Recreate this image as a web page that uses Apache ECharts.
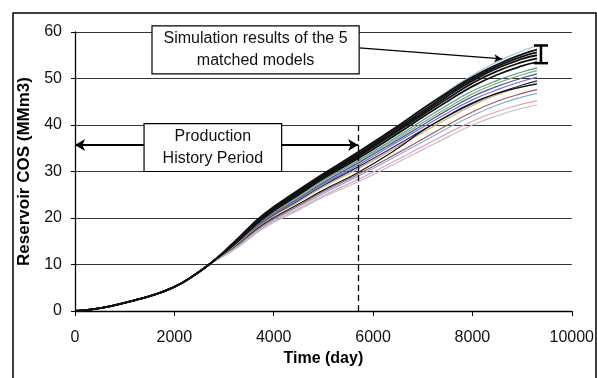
<!DOCTYPE html>
<html>
<head>
<meta charset="utf-8">
<script src="https://cdn.jsdelivr.net/npm/echarts@6/dist/echarts.min.js"></script>
<style>
  html, body { margin: 0; padding: 0; background: #fff; }
  #chart { width: 597px; height: 378px; }
</style>
</head>
<body>
<div id="chart"></div>
<script>
const fontFamily = '"Liberation Sans", Arial, sans-serif'

// time axis (day)
const xHistory = [0, 300, 700, 1200, 1600, 2000, 2300, 2700]
const xForecast = [3200, 3800, 4500, 5000, 5700, 6500, 7000, 7500, 8000, 8500, 9000, 9300]
// common history part of every run (MMm3)
const yHistory = [0, 0.3, 1, 2.3, 3.5, 5.2, 7, 10]

// the 5 matched models (black)
const matched = [
  [14.8, 20.8, 26.0, 29.5, 34.2, 39.8, 43.5, 47.0, 50.3, 53.0, 55.2, 56.2],
  [14.6, 20.6, 25.8, 29.2, 33.8, 39.4, 43.0, 46.6, 49.9, 52.6, 54.7, 55.6],
  [14.5, 20.4, 25.5, 29.0, 33.5, 39.0, 42.6, 46.2, 49.5, 52.2, 54.2, 55.0],
  [14.4, 20.2, 25.3, 28.8, 33.2, 38.7, 42.2, 45.7, 49.0, 51.6, 53.5, 54.3],
  [14.3, 20.0, 25.0, 28.5, 32.8, 38.2, 41.7, 45.1, 48.3, 50.8, 52.7, 53.5],
]

// other simulation runs
const others = [
  [14.6, 20.6, 25.8, 29.3, 34.0, 39.8, 43.6, 47.3, 50.7, 53.6, 55.9, 57.0],
  [14.2, 19.8, 24.7, 28.1, 32.3, 37.6, 41.0, 44.3, 47.3, 49.6, 51.4, 52.3],
  [14.1, 19.6, 24.4, 27.8, 32.0, 37.2, 40.5, 43.7, 46.7, 49.0, 50.8, 51.7],
  [14.0, 19.5, 24.2, 27.6, 31.8, 36.8, 40.0, 43.2, 46.1, 48.3, 50.1, 51.0],
  [13.9, 19.3, 24.0, 27.3, 31.4, 36.4, 39.5, 42.6, 45.4, 47.6, 49.4, 50.3],
  [13.8, 19.1, 23.7, 27.0, 31.0, 35.8, 38.9, 41.9, 44.6, 46.8, 48.6, 49.5],
  [13.8, 19.0, 23.5, 26.7, 30.6, 35.4, 38.4, 41.4, 44.2, 46.5, 48.2, 49.0],
  [13.6, 18.7, 23.0, 26.0, 29.8, 35.0, 38.8, 42.0, 44.8, 46.8, 48.2, 48.8],
  [13.5, 18.5, 22.7, 25.7, 29.4, 34.0, 37.0, 40.0, 42.8, 45.1, 46.8, 47.6],
  [13.4, 18.3, 22.4, 25.3, 29.0, 33.5, 36.4, 39.3, 42.0, 44.3, 46.0, 46.8],
  [13.2, 18.0, 22.0, 24.8, 28.3, 32.6, 35.4, 38.2, 40.8, 42.9, 44.5, 45.2],
  [13.1, 17.8, 21.7, 24.5, 27.8, 32.0, 34.7, 37.4, 40.0, 42.0, 43.6, 44.3],
]
const otherColors = ['#9cc6e0', '#4a9a9a', '#9aa860', '#3b5fb0', '#8a6ab8', '#1e2a66',
  '#c8b070', '#111111', '#a05a5a', '#7fb0e0', '#e0a0c0', '#c0c0c0']

// range of the matched models at the end (error bar)
const errorBar = [[9380, 53.3, 57.1]]

const xTicks = [0, 10000, 2000]
const yTicks = [0, 60, 10]

const historyEnd = 5700

const allX = xHistory.concat(xForecast)
const toPoints = tail => allX.map((x, i) => [x, yHistory.concat(tail)[i]])

const series = []
others.forEach((tail, i) => {
  series.push({
    type: 'line', name: 'run ' + (i + 1), data: toPoints(tail), smooth: true, symbol: 'none',
    lineStyle: { color: otherColors[i], width: 1.2 }, z: 2,
  })
})
matched.forEach((tail, i) => {
  series.push({
    type: 'line', name: 'matched ' + (i + 1), data: toPoints(tail), smooth: true, symbol: 'none',
    lineStyle: { color: '#111', width: 1.8 }, z: 3,
  })
})
series.push({
  type: 'custom', name: 'range', data: errorBar, z: 4,
  renderItem: (params, api) => {
    const top = api.coord([api.value(0), api.value(2)])
    const bot = api.coord([api.value(0), api.value(1)])
    const s = { stroke: '#000', lineWidth: 2.5 }
    return {
      type: 'group',
      children: [
        { type: 'line', shape: { x1: top[0], y1: top[1], x2: bot[0], y2: bot[1] }, style: s },
        { type: 'line', shape: { x1: top[0] - 7, y1: top[1], x2: top[0] + 7, y2: top[1] }, style: s },
        { type: 'line', shape: { x1: bot[0] - 7, y1: bot[1], x2: bot[0] + 7, y2: bot[1] }, style: s },
      ],
    }
  },
})
// annotation lines
series.push({
  type: 'line', data: [], silent: true,
  markLine: {
    silent: true, animation: false, label: { show: false },
    data: [
      [{ coord: [historyEnd, 0], symbol: 'none' }, { coord: [historyEnd, 40], symbol: 'none',
        lineStyle: { type: [6, 4], color: '#000', width: 1.3 } }],
      [{ coord: [0, 35.7], symbol: 'arrow', symbolSize: [9, 10] }, { coord: [historyEnd, 35.7], symbol: 'arrow', symbolSize: [9, 10],
        lineStyle: { type: 'solid', color: '#000', width: 2 } }],
      [{ coord: [5720, 56.6], symbol: 'none' }, { coord: [8600, 54.2], symbol: 'arrow', symbolSize: [6, 8],
        lineStyle: { type: 'solid', color: '#000', width: 1.2 } }],
    ],
  },
})

const chart = echarts.init(document.getElementById('chart'))
chart.setOption({
  animation: false,
  textStyle: { fontFamily },
  grid: { left: 75, right: 24, top: 32, bottom: 67 },
  xAxis: {
    type: 'value', min: xTicks[0], max: xTicks[1], interval: xTicks[2],
    name: 'Time (day)', nameLocation: 'middle', nameGap: 34,
    nameTextStyle: { fontSize: 16, fontWeight: 'bold', color: '#000' },
    axisLine: { lineStyle: { color: '#000', width: 1.3 } },
    axisTick: { show: true, length: 5, lineStyle: { color: '#000' } },
    axisLabel: { fontSize: 16, color: '#111', margin: 19, formatter: v => String(v) },
    splitLine: { show: false },
  },
  yAxis: {
    type: 'value', min: yTicks[0], max: yTicks[1], interval: yTicks[2],
    name: 'Reservoir COS (MMm3)', nameLocation: 'middle', nameGap: 41,
    nameTextStyle: { fontSize: 17, fontWeight: 'bold', color: '#000' },
    axisLine: { show: true, lineStyle: { color: '#000', width: 1.3 } },
    axisTick: { show: true, length: 4, lineStyle: { color: '#000' } },
    axisLabel: { fontSize: 16, color: '#111', margin: 13, formatter: v => String(v) },
    splitLine: { lineStyle: { color: '#333', width: 1 } },
  },
  series,
})

// text boxes placed from data coordinates
const p = (x, y) => chart.convertToPixel({ xAxisIndex: 0, yAxisIndex: 0 }, [x, y])
const simTL = p(1550, 61.3), simBR = p(5720, 51.0)
const prodTL = p(1390, 40.3), prodBR = p(4160, 30.0)
const boxStyle = { fill: '#fff', stroke: '#000', lineWidth: 1.2 }
const txt = { fontSize: 16, fontFamily, fill: '#111', align: 'center', verticalAlign: 'middle', lineHeight: 22 }
chart.setOption({
  graphic: [
    { type: 'rect', z: 100, shape: { x: 13, y: 13, width: 583, height: 380 },
      style: { fill: 'none', stroke: '#000', lineWidth: 1.5 } },
    { type: 'rect', z: 100, shape: { x: simTL[0], y: simTL[1], width: simBR[0] - simTL[0], height: simBR[1] - simTL[1] }, style: boxStyle },
    { type: 'text', z: 101, x: (simTL[0] + simBR[0]) / 2, y: (simTL[1] + simBR[1]) / 2,
      style: Object.assign({ text: 'Simulation results of the 5\nmatched models' }, txt) },
    { type: 'rect', z: 100, shape: { x: prodTL[0], y: prodTL[1], width: prodBR[0] - prodTL[0], height: prodBR[1] - prodTL[1] }, style: boxStyle },
    { type: 'text', z: 101, x: (prodTL[0] + prodBR[0]) / 2, y: (prodTL[1] + prodBR[1]) / 2,
      style: Object.assign({ text: 'Production\nHistory Period' }, txt) },
  ],
})
</script>
</body>
</html>
